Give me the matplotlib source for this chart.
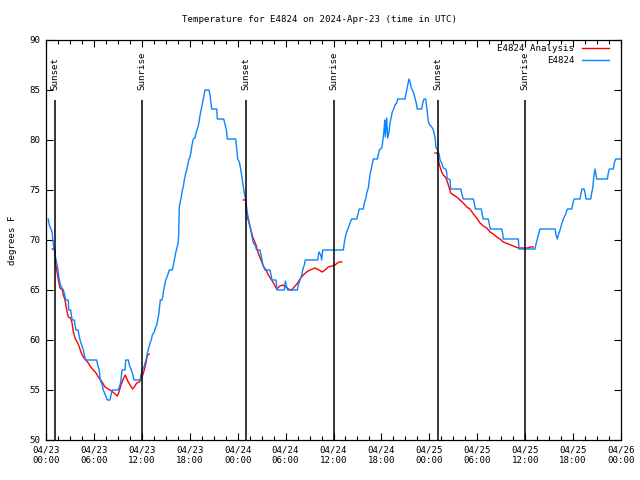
import matplotlib
matplotlib.use('Agg')
import matplotlib.pyplot as plt
import numpy as np

# time axis: hours since 2024-04-23 00:00 UTC
obs_hours = [0.29, 0.41, 0.63, 0.79, 0.84, 0.96, 1.09, 1.21, 1.34, 1.47, 1.59, 1.75, 1.92, 2.17,
             2.34, 2.47, 2.79, 2.84, 3.09, 3.17, 3.29, 3.54, 3.63, 3.76, 4.01, 4.13, 4.26, 4.47,
             4.67, 4.80, 4.97, 6.35, 6.47, 6.67, 6.80, 7.05, 7.18, 7.43, 7.68, 8.01, 8.14, 8.30,
             9.02, 9.27, 9.39, 9.52, 9.89, 9.98, 10.31, 10.43, 10.68, 10.89, 11.02, 11.77, 11.90,
             12.06, 12.27, 12.52, 12.69, 12.90, 13.06, 13.19, 13.31, 13.56, 13.69, 13.86, 13.99,
             14.11, 14.24, 14.31, 14.53, 14.65, 14.74, 14.86, 14.99, 15.11, 15.24, 15.44, 15.82,
             15.94, 16.07, 16.19, 16.32, 16.49, 16.57, 16.62, 16.65, 16.69, 16.82, 16.94, 17.07,
             17.19, 17.32, 17.44, 17.62, 17.74, 17.87, 18.03, 18.16, 18.28, 18.45, 18.66, 18.78,
             18.91, 19.03, 19.16, 19.25, 19.37, 19.50, 19.62, 19.75, 19.91, 20.41, 20.54, 20.66,
             20.75, 21.38, 21.45, 22.25, 22.38, 22.50, 22.63, 22.70, 23.75, 23.83, 23.92, 24.00,
             24.21, 24.33, 24.46, 24.58, 24.71, 24.83, 25.01, 25.13, 25.21, 25.33, 25.46, 25.58,
             25.71, 25.83, 25.96, 26.17, 26.38, 26.80, 26.92, 27.05, 27.17, 27.42, 28.05, 28.17,
             28.30, 28.80, 28.93, 29.84, 29.97, 30.14, 30.27, 31.47, 31.59, 31.81, 32.02, 32.14,
             32.34, 32.47, 34.02, 34.18, 34.40, 34.52, 34.65, 37.23, 37.35, 37.48, 37.65, 37.85,
             38.07, 38.28, 38.91, 39.07, 39.23, 39.73, 39.86, 40.07, 40.16, 40.36, 40.48, 40.61,
             40.78, 40.98, 41.49, 41.61, 41.74, 42.04, 42.16, 42.33, 42.41, 42.49, 42.66, 42.79,
             42.95, 43.08, 43.24, 43.36, 43.54, 43.70, 43.92, 44.04, 44.95, 45.17, 45.29, 45.45,
             45.62, 45.74, 45.99, 46.17, 46.33, 46.49, 47.05, 47.17, 47.33, 47.55, 47.67, 47.75,
             47.87, 48.08, 48.30, 48.50, 48.71, 48.84, 49.05, 49.25, 49.34, 49.55, 49.75, 50.05,
             50.18, 50.21, 50.59, 50.68, 51.93, 52.05, 52.25, 53.51, 53.63, 53.76, 54.51, 54.63,
             54.76, 55.38, 55.51, 55.63, 57.06, 57.19, 57.26, 59.14, 59.23, 61.23, 61.36, 61.52,
             61.73, 61.86, 63.74, 63.86, 64.03, 64.15, 64.36, 64.58, 64.78, 65.08, 65.28, 65.83,
             65.96, 66.12, 66.87, 66.99, 67.12, 67.37, 67.50, 67.62, 68.21, 68.33, 68.46, 68.62,
             68.75, 68.87, 68.96, 70.29, 70.41, 70.54, 71.04, 71.16, 71.34, 72.0]
obs_temp = [72.1, 71.5, 71.1, 70.7, 70.1, 69.3, 68.7, 68.2, 67.7, 67.2, 66.4, 65.7, 65.3, 65.0,
            64.5, 64.0, 64.0, 63.0, 63.0, 62.5, 62.0, 62.0, 61.5, 61.0, 61.0, 60.5, 60.0, 59.5,
            59.0, 58.5, 58.0, 58.0, 57.5, 57.0, 56.0, 55.5, 55.0, 54.5, 54.0, 54.0, 54.5, 55.0,
            55.0, 55.5, 56.0, 57.0, 57.0, 58.0, 58.0, 57.5, 57.0, 56.5, 56.0, 56.0, 56.5,
            57.0, 57.3, 58.0, 58.7, 59.3, 59.8, 60.0, 60.5, 60.8, 61.2, 61.5, 62.0,
            62.5, 63.5, 64.0, 64.0, 64.5, 65.0, 65.5, 66.0, 66.2, 66.5, 67.0, 67.0,
            67.5, 68.0, 68.5, 69.0, 69.5, 69.9, 70.7, 71.7, 73.3, 73.8, 74.3, 75.0,
            75.3, 76.0, 76.5, 77.0, 77.5, 78.0, 78.3, 78.8, 79.5, 80.1, 80.2, 80.7,
            81.0, 81.3, 81.8, 82.3, 82.8, 83.3, 83.8, 84.3, 85.0, 85.0, 84.5, 83.7,
            83.1, 83.1, 82.1, 82.1, 81.7, 81.3, 80.8, 80.1, 80.1, 79.5, 78.8, 78.1,
            77.8, 77.3, 76.7, 76.0, 75.3, 74.7, 74.0, 73.2, 72.7, 72.2, 71.7, 71.2,
            70.7, 70.2, 69.7, 69.5, 69.0, 69.0, 68.5, 68.0, 67.5, 67.0, 67.0, 66.5,
            66.0, 66.0, 65.0, 65.0, 65.9, 65.3, 65.0, 65.0, 65.5, 66.0, 66.5, 67.0,
            67.5, 68.0, 68.0, 68.8, 68.5, 68.0, 69.0, 69.0, 69.7, 70.3, 70.8, 71.2,
            71.7, 72.1, 72.1, 72.6, 73.1, 73.1, 73.7, 74.2, 74.7, 75.2, 76.0, 76.7,
            77.3, 78.1, 78.1, 78.5, 79.0, 79.2, 79.8, 81.0, 82.0, 80.3, 82.2, 80.2,
            80.8, 81.7, 82.3, 82.8, 83.1, 83.5, 83.7, 84.1, 84.1, 85.0, 85.5, 86.1,
            85.7, 85.2, 84.8, 84.3, 83.8, 83.1, 83.1, 83.7, 84.1, 84.1, 83.3, 82.8,
            81.8, 81.5, 81.3, 81.0, 80.3, 79.2, 79.0, 78.5, 78.0, 77.7, 77.2, 77.1,
            76.7, 76.2, 76.0, 75.1, 75.1, 74.7, 74.1, 74.1, 73.7, 73.1, 73.1, 72.5,
            72.1, 72.1, 71.6, 71.1, 71.1, 70.6, 70.1, 70.1, 69.1, 69.1, 69.6, 70.1,
            70.7, 71.1, 71.1, 70.5, 70.1, 70.5, 71.0, 71.6, 72.1, 72.6, 73.1, 73.1,
            73.6, 74.1, 74.1, 74.7, 75.1, 75.1, 74.7, 74.1, 74.1, 74.7, 75.2, 76.5,
            77.1, 76.5, 76.1, 76.1, 76.7, 77.1, 77.1, 77.7, 78.1, 78.1]

# analysis runs (one per evening), NaN breaks the line between runs
ana_hours = [0.79, 1.09, 1.21, 1.34, 1.55, 1.75, 2.05, 2.17, 2.38, 2.59, 2.79, 3.09, 3.26, 3.42,
             3.67, 3.92, 4.17, 4.42, 4.67, 4.88, 5.30, 5.60, 5.93, 6.26, 6.55, 6.85, 7.10, 7.39,
             7.80, 8.22, 8.51, 8.93, 9.14, 9.39, 9.68, 9.93, 10.18, 10.52, 10.85, 11.06, 11.36,
             11.69, 11.86, 12.11, 12.27, 12.52, 12.69, 12.94, np.nan,
             24.71, 25.01, 25.04, 25.21, 25.42, 25.67, 25.88, 26.05, 26.30, 26.46, 26.67, 26.92,
             27.21, 27.55, 27.84, 28.26, 28.55, 28.89, 29.30, 29.64, 30.02, 30.34, 30.77, 30.97,
             31.31, 31.59, 31.89, 32.22, 32.64, 33.06, 33.68, 34.18, 34.60, 34.94, 35.35, 35.78,
             36.19, 36.48, 36.73, 37.03, np.nan,
             48.71, 49.00, 49.12, 49.34, 49.55, 49.75, 50.09, 50.38, 50.68, 51.00, 51.43, 51.84,
             52.25, 52.68, 53.09, 53.43, 53.72, 54.01, 54.35, 54.76, 55.19, 55.60, 56.01, 56.44,
             56.85, 57.26, 57.89, 58.52, 59.14, 59.77, 60.39, 60.61, 61.02]
ana_temp = [69.1, 69.1, 67.7, 67.0, 66.0, 65.2, 65.0, 64.5, 64.0, 63.0, 62.3, 62.2, 61.7, 60.8,
            60.1, 59.8, 59.3, 58.7, 58.3, 58.1, 57.7, 57.3, 57.0, 56.7, 56.3, 56.0, 55.7, 55.3,
            55.1, 54.9, 54.7, 54.4, 54.8, 55.5, 56.1, 56.5, 56.0, 55.5, 55.1, 55.3, 55.7,
            55.8, 56.0, 56.5, 56.9, 57.7, 58.5, 58.6, np.nan,
            74.0, 74.0, 73.0, 72.3, 71.7, 71.0, 70.3, 70.0, 69.5, 69.0, 68.5, 68.0,
            67.4, 67.0, 66.5, 66.0, 65.6, 65.1, 65.4, 65.5, 65.3, 65.1, 65.0, 65.2,
            65.5, 65.8, 66.2, 66.5, 66.8, 67.0, 67.2, 67.0, 66.8, 67.0, 67.3, 67.4,
            67.5, 67.7, 67.8, 67.8, np.nan,
            78.7, 78.7, 78.0, 77.3, 76.8, 76.5, 76.2, 75.5, 74.7, 74.5, 74.3, 74.0,
            73.7, 73.3, 73.1, 72.7, 72.4, 72.1, 71.7, 71.4, 71.2, 70.8, 70.6, 70.3,
            70.1, 69.8, 69.6, 69.4, 69.2, 69.2, 69.2, 69.3, 69.3]

event_hours = [1.13, 12.02, 25.07, 36.04, 49.10, 59.98]
event_names = ['Sunset', 'Sunrise', 'Sunset', 'Sunrise', 'Sunset', 'Sunrise']

tick_hours = [0, 6, 12, 18, 24, 30, 36, 42, 48, 54, 60, 66, 72]
tick_labels = ['04/23\n00:00', '04/23\n06:00', '04/23\n12:00', '04/23\n18:00',
               '04/24\n00:00', '04/24\n06:00', '04/24\n12:00', '04/24\n18:00',
               '04/25\n00:00', '04/25\n06:00', '04/25\n12:00', '04/25\n18:00',
               '04/26\n00:00']

plt.rcParams['font.family'] = 'DejaVu Sans Mono'
plt.rcParams['font.size'] = 6.6

fig = plt.figure(figsize=(6.4, 4.8), dpi=100)
ax = fig.add_axes([46 / 640, 40 / 480, 575 / 640, 400 / 480])

ax.plot(ana_hours, ana_temp, color='#ff0000', lw=1.0, label='E4824 Analysis')
ax.plot(obs_hours, obs_temp, color='#0a84ff', lw=1.0, label='E4824')

# sunrise / sunset markers
for h, name in zip(event_hours, event_names):
    ax.vlines(h, 50, 84, color='black', lw=1.1)
    ax.text(h, 85, name, rotation=90, ha='center', va='bottom')

ax.set_xlim(0, 72)
ax.set_ylim(50, 90)
ax.set_xticks(tick_hours)
ax.set_xticklabels(tick_labels)
ax.set_xticks(np.arange(0, 72.1, 1.5), minor=True)
ax.set_yticks(np.arange(50, 91, 5))
ax.tick_params(direction='in', top=True, right=True, length=5, width=0.8, pad=4)
ax.tick_params(which='minor', direction='in', top=True, length=3, width=0.8)
for s in ax.spines.values():
    s.set_linewidth(0.9)

ax.set_ylabel('degrees F', labelpad=9)
fig.text(0.5, 1 - 19 / 480, 'Temperature for E4824 on 2024-Apr-23 (time in UTC)',
         ha='center', va='center')

ax.legend(loc='upper right', bbox_to_anchor=(609 / 640, 1 - 44 / 480),
          bbox_transform=fig.transFigure, frameon=False, markerfirst=False,
          borderaxespad=0, borderpad=0, handlelength=3.0, handletextpad=0.8,
          labelspacing=0.35)

fig.savefig('out.png', dpi=100)
